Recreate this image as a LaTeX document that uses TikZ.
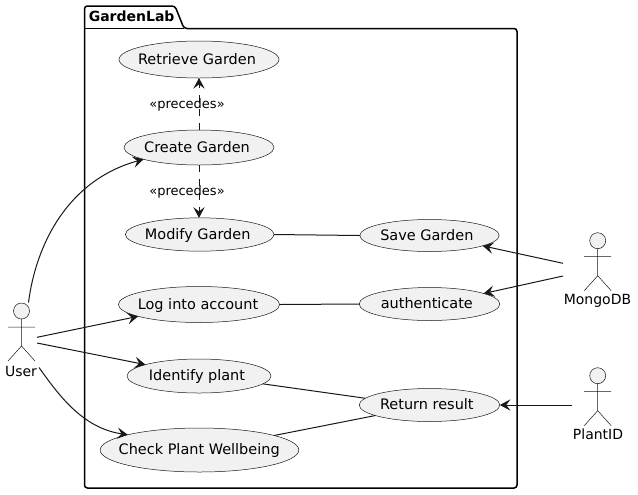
\documentclass[tikz,border=0pt]{standalone}
\usepackage{fontspec}
\setmainfont{DejaVu Sans}
\usetikzlibrary{shapes.geometric,arrows.meta,calc}
\definecolor{fillc}{HTML}{F1F1F1}
\definecolor{linec}{HTML}{181818}
\newcommand{\ucText}[2][-3pt]{\makebox[0pt]{\kern#1\raisebox{-3.5pt}[0pt][0pt]{#2}}}
\tikzset{
  x=0.75pt,y=-0.75pt,
  usecase/.style={ellipse,draw=linec,fill=fillc,line width=0.375pt,inner sep=0pt,outer sep=0pt,font=\fontsize{10.85pt}{12pt}\selectfont},
  flow/.style={draw=linec,line width=0.75pt},
  arrowed/.style={flow,-{Stealth[length=8pt,width=8.5pt,inset=3.2pt]}},
  precedesline/.style={arrowed,dash pattern=on 5.25pt off 5.25pt},
  edgelabel/.style={font=\fontsize{9.75pt}{12pt}\selectfont,text=black,inner sep=0pt},
  actorlabel/.style={font=\fontsize{10.5pt}{12pt}\selectfont,text=black,inner sep=0pt,anchor=base},
  packageframe/.style={draw=black,line width=1.125pt,rounded corners=2.2pt,fill=white},
  actorfig/.pic={
    \draw[linec,line width=0.375pt,fill=fillc] (0,0) circle[radius=8];
    \draw[linec,line width=0.375pt] (0,8) -- (0,35) (-13.5,16) -- (13.5,16) (-13.5,50) -- (0,35) -- (13.5,50);
  }
}
\begin{document}
\begin{tikzpicture}
\useasboundingbox (0,0) rectangle (638,494);
\fill[white] (0,0) rectangle (638,494);
% package
\draw[packageframe] (84.5,28.5) -- (84.5,6) -- (175,6) -- (184,28.5) -- (517,28.5) -- (517,488) -- (84.5,488) -- cycle;
\draw[black,line width=1.125pt] (84.5,28.5) -- (184,28.5);
\node[anchor=base west,inner sep=0pt,font=\fontsize{10.5pt}{12pt}\selectfont\bfseries] (pkg) at (88.5,21) {GardenLab};
% use cases
\node[usecase,minimum width=120pt,minimum height=27.75pt] (retrieve) at (199,59.5) {\ucText{Retrieve Garden}};
\node[usecase,minimum width=112.5pt,minimum height=26.25pt] (create) at (199,147.5) {\ucText{Create Garden}};
\node[usecase,minimum width=111.5pt,minimum height=25pt] (modify) at (199.7,234.5) {\ucText{Modify Garden}};
\node[usecase,minimum width=121pt,minimum height=27pt] (login) at (199,304.5) {\ucText[-1.5pt]{Log into account}};
\node[usecase,minimum width=108pt,minimum height=25.5pt] (identify) at (199,376) {\ucText{Identify plant}};
\node[usecase,minimum width=149pt,minimum height=33pt] (check) at (199.5,450) {\ucText[-0.5pt]{Check Plant Wellbeing}};
\node[usecase,minimum width=104.5pt,minimum height=24pt] (save) at (429.5,235.5) {\ucText[-4pt]{Save Garden}};
\node[usecase,minimum width=105.5pt,minimum height=24.75pt] (auth) at (429.5,304) {\ucText[-4pt]{authenticate}};
\node[usecase,minimum width=105.5pt,minimum height=24.75pt] (result) at (429.5,405) {\ucText[-4pt]{Return result}};
% actors
\pic at (21.5,311) {actorfig};
\pic at (597.7,240.7) {actorfig};
\pic at (597.7,375.7) {actorfig};
\node[actorlabel] (user) at (21,376) {User};
\node[actorlabel] (mongo) at (597.5,304.5) {MongoDB};
\node[actorlabel] (plantid) at (598,439.5) {PlantID};
\coordinate (userA) at (28.5,302.5);
\coordinate (userB) at (37,337.3);
\coordinate (userC) at (37,343);
\coordinate (userD) at (39,367.5);
\coordinate (mongoA) at (563,263.3);
\coordinate (mongoB) at (563,276);
\coordinate (plantA) at (572.3,405);
% connectors
\draw[arrowed] (userA) .. controls (36,244) and (68,180) .. (create.192.6);
\draw[arrowed] (userB) -- (login.191.1);
\draw[arrowed] (userC) -- (identify.168.7);
\draw[arrowed] (userD) .. controls (58,394) and (82,428) .. (check.168.1);
\draw[precedesline] (create.north) -- (retrieve.south);
\draw[precedesline] (create.south) -- (modify.north -| create.south);
\draw[flow] (modify.east) -- (save.west);
\draw[flow] (login.east) -- (auth.west);
\draw[flow] (identify.-7.2) -- (result.174.7);
\draw[flow] (check.11.4) -- (result.191.6);
\draw[arrowed] (mongoA) -- (save.-11.4);
\draw[arrowed] (mongoB) -- (auth.11.3);
\draw[arrowed] (plantA) -- (result.east);
% edge labels
\node[edgelabel] (prec1) at (187,105) {«precedes»};
\node[edgelabel] (prec2) at (187,192) {«precedes»};
\end{tikzpicture}
\end{document}
